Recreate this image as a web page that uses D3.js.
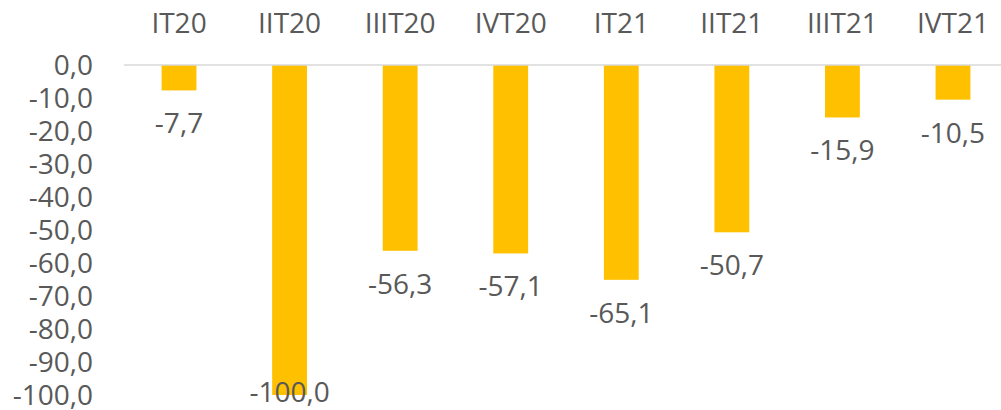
<!DOCTYPE html>
<html>
<head>
<meta charset="utf-8">
<script src="https://cdn.jsdelivr.net/npm/d3@7"></script>
<style>
  body { margin: 0; background: #fff; }
  svg { display: block; }
  text { font-family: "Open Sans", sans-serif; fill: #595959; }
</style>
</head>
<body>
<svg id="chart" width="1001" height="410"></svg>
<script>
var categories = ["IT20", "IIT20", "IIIT20", "IVT20", "IT21", "IIT21", "IIIT21", "IVT21"];
var values = [-7.7, -100.0, -56.3, -57.1, -65.1, -50.7, -15.9, -10.5];
var yTicks = [0, -10, -20, -30, -40, -50, -60, -70, -80, -90, -100];

var svg = d3.select("#chart");
var fmt = function(v) { return v.toFixed(1).replace(".", ","); };

var x = d3.scaleBand()
    .domain(categories)
    .range([124, 1008])
    .paddingInner(0.685)
    .paddingOuter(0.34);

var y = d3.scaleLinear()
    .domain([0, -100])
    .range([65, 395]);

// y axis labels
svg.append("g")
  .selectAll("text")
  .data(yTicks)
  .enter().append("text")
    .attr("x", 93)
    .attr("y", function(d) { return y(d); })
    .attr("dy", "0.36em")
    .attr("text-anchor", "end")
    .style("font-size", "28px")
    .text(fmt);

// bars
svg.append("g")
  .selectAll("rect")
  .data(values)
  .enter().append("rect")
    .attr("x", function(d, i) { return x(categories[i]); })
    .attr("y", y(0))
    .attr("width", x.bandwidth())
    .attr("height", function(d) { return y(d) - y(0); })
    .attr("fill", "#ffc000");

// zero line
svg.append("line")
    .attr("x1", 124)
    .attr("x2", 1001)
    .attr("y1", y(0))
    .attr("y2", y(0))
    .attr("stroke", "#d9d9d9")
    .attr("stroke-width", 1.5);

// category labels on top
svg.append("g")
  .selectAll("text")
  .data(categories)
  .enter().append("text")
    .attr("x", function(d) { return x(d) + x.bandwidth() / 2; })
    .attr("y", 33)
    .attr("text-anchor", "middle")
    .style("font-size", "28px")
    .text(function(d) { return d; });

// value labels
svg.append("g")
  .selectAll("text")
  .data(values)
  .enter().append("text")
    .attr("x", function(d, i) { return x(categories[i]) + x.bandwidth() / 2; })
    .attr("y", function(d) { return Math.min(y(d) + 43, 402); })
    .attr("text-anchor", "middle")
    .style("font-size", "28px")
    .text(fmt);
</script>
</body>
</html>
